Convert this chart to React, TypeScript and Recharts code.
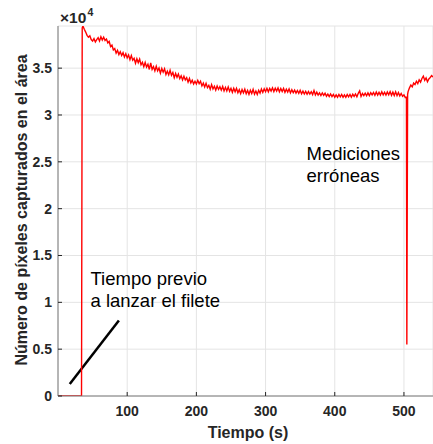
import React from 'react';
import { LineChart, Line, XAxis, YAxis, CartesianGrid, ReferenceLine } from 'recharts';

// ---- Data ----
const SAMPLE_STEP = 2; // seconds between samples in the sampled segments

const idleTimes = [0, 34];
const idleValues = [0, 0];

const launchTimes = [35];
const launchValues = [39300];

// t = 36 .. 100
const earlyStart = 36;
const earlyValues = [
  39500, 39150, 38850, 38500, 38300, 38450, 38050, 37900, 38150, 37800, 38050, 38250, 37900,
  38350, 38000, 38300, 37950, 38100, 37700, 37850, 37300, 37450, 36950, 37100, 36600, 36900,
  36450, 36750, 36350, 36650, 36200, 36550, 36100,
];

// t = 102 .. 200
const decayStart = 102;
const decayValues = [
  36400, 35900, 36350, 35850, 36050, 35530, 36010, 35590, 35970, 35350, 35630, 35150, 35610,
  35110, 35410, 34860, 35560, 34860, 35160, 34710, 35210, 34710, 35020, 34470, 34970, 34570,
  34930, 34330, 34680, 34280, 34780, 34230, 34530, 33980, 34430, 34030, 34380, 33880, 34180,
  33740, 34140, 33740, 33980, 33510, 33900, 33430, 33710, 33300, 33600, 33300,
];

// t = 202 .. 300
const midStart = 202;
const midValues = [
  33700, 33350, 33600, 33100, 33400, 32990, 33380, 32920, 33160, 32750, 33240, 32780, 33070,
  32660, 33090, 32730, 33020, 32650, 33040, 32570, 32950, 32570, 33000, 32520, 32850, 32420,
  32850, 32470, 32850, 32370, 32700, 32280, 32720, 32360, 32750, 32280, 32620, 32210, 32650,
  32290, 32730, 32220, 32560, 32200, 32640, 32330, 32770, 32410, 32800, 32480,
];

// t = 302 .. 400
const plateauStart = 302;
const plateauValues = [
  32850, 32470, 32840, 32550, 32900, 32500, 32850, 32550, 32890, 32480, 32820, 32500, 32840,
  32420, 32760, 32440, 32780, 32360, 32690, 32380, 32660, 32340, 32620, 32310, 32640, 32270,
  32550, 32240, 32520, 32210, 32500, 32240, 32480, 32170, 32610, 32150, 32440, 32120, 32350,
  32080, 32360, 32090, 32320, 32000, 32230, 31960, 32240, 31970, 32200, 31900,
];

// t = 402 .. 502
const lateStart = 402;
const lateValues = [
  32150, 31900, 32200, 31940, 32190, 31890, 32140, 31890, 32190, 31940, 32190, 31900, 32210,
  31980, 32240, 31950, 32310, 32570, 31980, 32300, 32060, 32330, 32050, 32360, 32070, 32380,
  32140, 32400, 32100, 32460, 32120, 32420, 32130, 32480, 32140, 32430, 32130, 32470, 32160,
  32500, 32100, 32440, 32080, 32470, 32060, 32400, 32040, 32300, 32000, 32150, 31850,
];

// faulty measurement
const glitchTimes = [503.6, 504.2, 504.5, 505.3];
const glitchValues = [31900, 5500, 13500, 32200];

// t = 506 .. 542
const recoveryStart = 506;
const recoveryValues = [
  32500, 32900, 33200, 33000, 33400, 33250, 33600, 33350, 33750, 33500, 33900, 34150, 33700,
  33950, 33550, 33850, 34000, 34200, 34050,
];

const xTicks = [100, 200, 300, 400, 500];
const yTicks = [0, 5000, 10000, 15000, 20000, 25000, 30000, 35000];

type Row = { t: number; v: number };
const data: Row[] = [];
const pushPairs = (ts: number[], vs: number[]) => ts.forEach((t, i) => data.push({ t, v: vs[i] }));
const pushSampled = (start: number, vs: number[]) =>
  vs.forEach((v, i) => data.push({ t: start + i * SAMPLE_STEP, v }));

pushPairs(idleTimes, idleValues);
pushPairs(launchTimes, launchValues);
pushSampled(earlyStart, earlyValues);
pushSampled(decayStart, decayValues);
pushSampled(midStart, midValues);
pushSampled(plateauStart, plateauValues);
pushSampled(lateStart, lateValues);
pushPairs(glitchTimes, glitchValues);
pushSampled(recoveryStart, recoveryValues);

const FONT = '"Liberation Sans", Arial, Helvetica, sans-serif';
const tickStyle = { fontSize: 14, fontWeight: 'bold', fill: '#262626', fontFamily: FONT };
const AXIS = '#7a7a7a';

export default function App() {
  return (
    <div style={{ position: 'absolute', left: 0, top: 0, width: 433, height: 444, background: '#fff' }}>
      <LineChart width={433} height={444} data={data} margin={{ top: 26, right: 0, bottom: 0, left: 0 }}>
        <CartesianGrid stroke="#e4e4e4" strokeWidth={1} />
        <XAxis
          dataKey="t"
          type="number"
          domain={[0, 542]}
          ticks={xTicks}
          allowDataOverflow
          height={48}
          tick={tickStyle}
          tickSize={-4}
          tickMargin={14}
          tickLine={{ stroke: '#262626' }}
          axisLine={{ stroke: AXIS }}
        />
        <XAxis
          xAxisId="top"
          orientation="top"
          dataKey="t"
          type="number"
          domain={[0, 542]}
          ticks={xTicks}
          height={0}
          tick={false}
          tickSize={-4}
          tickLine={{ stroke: '#262626' }}
          axisLine={{ stroke: AXIS }}
        />
        <YAxis
          type="number"
          domain={[0, 39500]}
          ticks={yTicks}
          allowDataOverflow
          width={58}
          tick={tickStyle}
          tickSize={-4}
          tickMargin={10}
          tickLine={{ stroke: '#262626' }}
          axisLine={{ stroke: AXIS }}
          tickFormatter={(v: number) => String(v / 10000)}
        />
        <ReferenceLine
          segment={[
            { x: 17, y: 1280 },
            { x: 88, y: 8070 },
          ]}
          stroke="#000"
          strokeWidth={2.5}
        />
        <Line
          dataKey="v"
          type="linear"
          stroke="#ff0000"
          strokeWidth={1.4}
          dot={false}
          isAnimationActive={false}
        />
      </LineChart>
      <svg
        width={433}
        height={444}
        style={{ position: 'absolute', left: 0, top: 0, pointerEvents: 'none' }}
      >
        <text x={60} y={22.5} fontFamily={FONT} fontSize={15.5} fontWeight="bold" fill="#262626">
          ×10
        </text>
        <text x={87.5} y={16} fontFamily={FONT} fontSize={10.5} fontWeight="bold" fill="#262626">
          4
        </text>
        <text
          x={27}
          y={210}
          transform="rotate(-90 27 210)"
          textAnchor="middle"
          fontFamily={FONT}
          fontSize={16}
          fontWeight="bold"
          fill="#262626"
        >
          Número de píxeles capturados en el área
        </text>
        <text x={248} y={438} textAnchor="middle" fontFamily={FONT} fontSize={16} fontWeight="bold" fill="#262626">
          Tiempo (s)
        </text>
        <text x={306.5} y={159.5} fontFamily={FONT} fontSize={18.5} fill="#000">
          Mediciones
        </text>
        <text x={306.5} y={181.5} fontFamily={FONT} fontSize={18.5} fill="#000">
          erróneas
        </text>
        <text x={90.5} y={285} fontFamily={FONT} fontSize={18.5} fill="#000">
          Tiempo previo
        </text>
        <text x={90.5} y={307} fontFamily={FONT} fontSize={18.5} fill="#000">
          a lanzar el filete
        </text>
      </svg>
    </div>
  );
}
